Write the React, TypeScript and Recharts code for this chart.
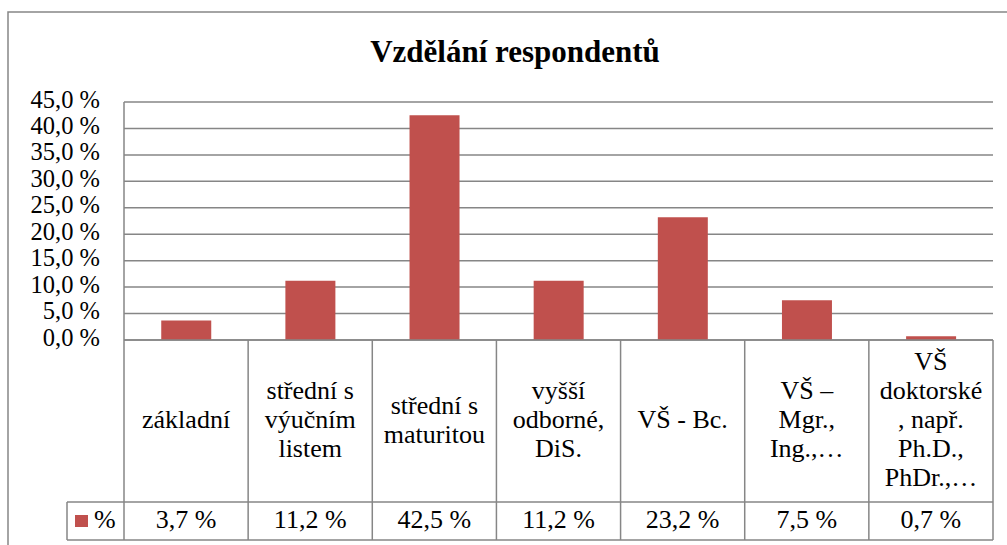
import React from "react";
import { BarChart, Bar, XAxis, YAxis, CartesianGrid, Customized } from "recharts";

const categoryLines = [
  ["základní"],
  ["střední s", "výučním", "listem"],
  ["střední s", "maturitou"],
  ["vyšší", "odborné,", "DiS."],
  ["VŠ - Bc."],
  ["VŠ –", "Mgr.,", "Ing.,…"],
  ["VŠ", "doktorské", ", např.", "Ph.D.,", "PhDr.,…"],
];
const categories = categoryLines.map((l) => l.join(" "));
const values = [3.7, 11.2, 42.5, 11.2, 23.2, 7.5, 0.7];
const yTicks = [0, 5, 10, 15, 20, 25, 30, 35, 40, 45];
const seriesName = "%";

const data = categories.map((name, i) => ({ name, value: values[i] }));

const W = 1007;
const H = 545;
const LEFT = 124;
const RIGHT = 14;
const TOP = 102;
const AXIS_Y = 340;
const ROW_Y = 502;
const TABLE_BOTTOM = 540;
const LEGEND_LEFT = 67;
const BAND = (W - LEFT - RIGHT) / categories.length;
const GREY = "#868686";
const FONT = '"Liberation Serif", "Times New Roman", serif';
const RED = "#C0504D";
const txt = { fontFamily: FONT, fontSize: 26, fill: "#000" };

const pct = (v: number) => v.toFixed(1).replace(".", ",") + " %";

function CategoryTick(props: any) {
  const { x, payload } = props;
  const i = payload.index;
  const lines = categoryLines[i];
  const n = lines.length;
  const left = x - BAND / 2;
  const right = x + BAND / 2;
  return (
    <g>
      <line x1={left} y1={AXIS_Y} x2={left} y2={TABLE_BOTTOM} stroke={GREY} strokeWidth={1.5} />
      {i === categories.length - 1 && (
        <line x1={right} y1={AXIS_Y} x2={right} y2={TABLE_BOTTOM} stroke={GREY} strokeWidth={1.5} />
      )}
      {lines.map((l, k) => (
        <text key={k} x={x} y={428 + (k - (n - 1) / 2) * 29} textAnchor="middle" style={txt}>
          {l}
        </text>
      ))}
      <text x={x} y={528} textAnchor="middle" style={txt}>
        {pct(values[i])}
      </text>
    </g>
  );
}

function YTick(props: any) {
  const { x, y, payload } = props;
  return (
    <text x={x} y={y - 3} dy="0.35em" textAnchor="end" style={{ ...txt, fontSize: 24.5 }}>
      {pct(payload.value)}
    </text>
  );
}

function Decorations() {
  const plotRight = W - RIGHT;
  return (
    <g>
      <rect x={8} y={12} width={W + 10} height={H + 10} fill="none" stroke={GREY} strokeWidth={1.5} />
      <text x={515} y={62} textAnchor="middle" style={{ ...txt, fontSize: 31, fontWeight: "bold" }}>
        Vzdělání respondentů
      </text>
      <line x1={LEGEND_LEFT} y1={ROW_Y} x2={plotRight} y2={ROW_Y} stroke={GREY} strokeWidth={1.5} />
      <line x1={LEGEND_LEFT} y1={TABLE_BOTTOM} x2={plotRight} y2={TABLE_BOTTOM} stroke={GREY} strokeWidth={1.5} />
      <line x1={LEGEND_LEFT} y1={ROW_Y} x2={LEGEND_LEFT} y2={TABLE_BOTTOM} stroke={GREY} strokeWidth={1.5} />
      <rect x={75} y={515} width={13} height={12} fill={RED} />
      <text x={94} y={528} style={txt}>
        {seriesName}
      </text>
    </g>
  );
}

export default function App() {
  return (
    <div style={{ position: "absolute", left: 0, top: 0, width: W, height: H, background: "#fff" }}>
      <BarChart
        width={W}
        height={H}
        data={data}
        margin={{ top: TOP, right: RIGHT, left: 0, bottom: 0 }}
        barCategoryGap="30%"
      >
        <CartesianGrid vertical={false} stroke={GREY} strokeWidth={1.5} />
        <XAxis
          dataKey="name"
          height={H - AXIS_Y}
          interval={0}
          tickLine={false}
          axisLine={{ stroke: GREY, strokeWidth: 1.5 }}
          tick={<CategoryTick />}
        />
        <YAxis
          width={LEFT}
          domain={[0, 45]}
          ticks={yTicks}
          interval={0}
          tickLine={false}
          tickSize={0}
          tickMargin={24}
          axisLine={{ stroke: GREY, strokeWidth: 1.5 }}
          tick={<YTick />}
        />
        <Bar dataKey="value" fill={RED} isAnimationActive={false} />
        <Customized component={Decorations} />
      </BarChart>
    </div>
  );
}
